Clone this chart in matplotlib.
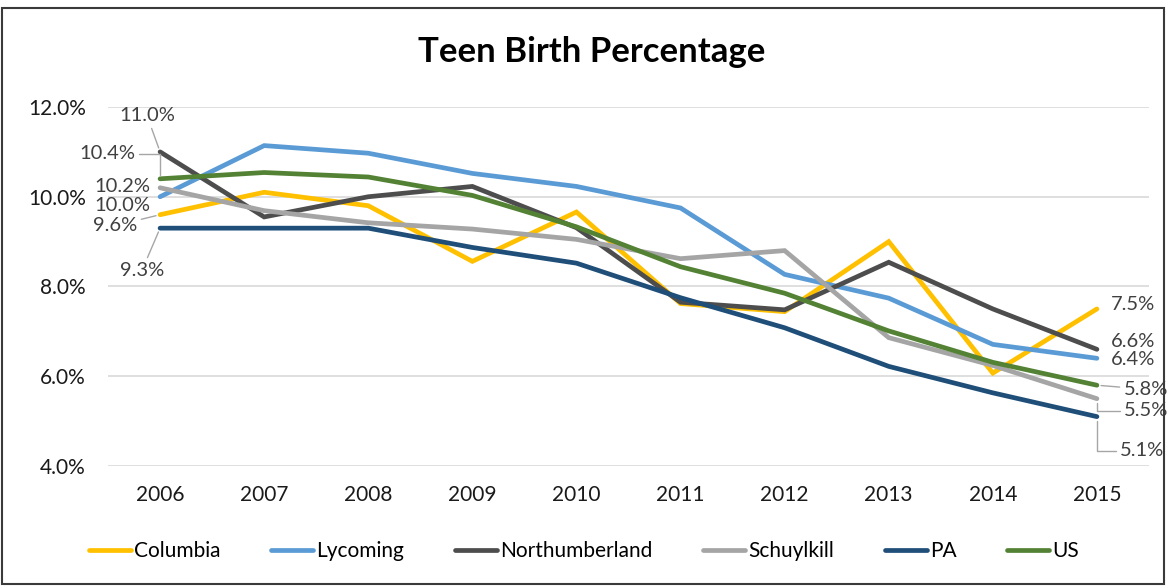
import matplotlib

matplotlib.use("Agg")
import matplotlib.pyplot as plt
import numpy as np
from matplotlib.patches import Rectangle

plt.rcParams["font.family"] = ["Lato", "DejaVu Sans"]

# ---------- Data (teen births as % of all births) ----------
years = ["2006", "2007", "2008", "2009", "2010", "2011", "2012", "2013", "2014", "2015"]
columbia = [9.6, 10.1, 9.8, 8.56, 9.66, 7.62, 7.44, 9.0, 6.07, 7.5]
lycoming = [10.0, 11.14, 10.97, 10.52, 10.23, 9.75, 8.27, 7.74, 6.71, 6.4]
northumberland = [11.0, 9.55, 10.0, 10.23, 9.31, 7.65, 7.48, 8.54, 7.5, 6.6]
schuylkill = [10.2, 9.69, 9.42, 9.28, 9.05, 8.62, 8.8, 6.86, 6.24, 5.5]
pa = [9.3, 9.3, 9.3, 8.87, 8.52, 7.75, 7.08, 6.22, 5.63, 5.1]
us = [10.4, 10.54, 10.44, 10.03, 9.33, 8.44, 7.85, 7.01, 6.31, 5.8]

series = [
    ("Columbia", columbia, "#FFC000"),
    ("Lycoming", lycoming, "#5B9BD5"),
    ("Northumberland", northumberland, "#4D4D4D"),
    ("Schuylkill", schuylkill, "#A5A5A5"),
    ("PA", pa, "#1F4E79"),
    ("US", us, "#548235"),
]

# end-point label offsets in pixels, plus leader style (None = no leader)
ELBOW = "angle,angleA=0,angleB=90,rad=0"
STRAIGHT = "arc3"
left_offsets = {
    "Northumberland": (-13, 36, STRAIGHT),
    "US": (-53, 25, ELBOW),
    "Schuylkill": (-38, 1, None),
    "Lycoming": (-38, -9, None),
    "Columbia": (-45, -11, STRAIGHT),
    "PA": (-18, -42, STRAIGHT),
}
right_offsets = {
    "Columbia": (36, 4, None),
    "Northumberland": (36, 8, None),
    "Lycoming": (36, -1, None),
    "US": (49, -4, STRAIGHT),
    "Schuylkill": (49, -12, ELBOW),
    "PA": (45, -34, ELBOW),
}

fig = plt.figure(figsize=(11.68, 5.86), dpi=100)
ax = fig.add_axes([0.0925, 0.2048, 0.8912, 0.6126])
x = np.arange(len(years))

for name, vals, color in series:
    ax.plot(x, vals, color=color, lw=3.4, label=name, solid_capstyle="round",
            solid_joinstyle="miter")


def end_label(xi, yi, offset):
    dx, dy, style = offset
    props = None
    if style is not None:
        props = dict(arrowstyle="-", color="#A6A6A6", lw=1.0, shrinkA=1,
                     shrinkB=3, connectionstyle=style)
    ax.annotate(f"{yi:.1f}%", (xi, yi), xytext=(dx, dy),
                textcoords="offset pixels", ha="center", va="center",
                fontsize=14.5, color="#404040", arrowprops=props)


for name, vals, color in series:
    end_label(x[0], vals[0], left_offsets[name])
    end_label(x[-1], vals[-1], right_offsets[name])

ax.set_xlim(-0.5, len(years) - 0.5)
ax.set_ylim(4, 12)
ax.set_xticks(x)
ax.set_xticklabels(years)
ax.set_yticks([4, 6, 8, 10, 12])
ax.set_yticklabels([f"{v:.1f}%" for v in [4, 6, 8, 10, 12]])
ax.tick_params(axis="both", length=0, labelsize=15, colors="#1a1a1a")
ax.tick_params(axis="x", pad=14)
ax.tick_params(axis="y", pad=16)
ax.grid(axis="y", color="#D9D9D9", lw=1.2)
ax.set_axisbelow(True)
for sp in ax.spines.values():
    sp.set_visible(False)

fig.text(0.507, 0.912, "Teen Birth Percentage", ha="center", va="center",
         fontsize=25, fontweight="bold", color="black")

fig.legend(loc="center", bbox_to_anchor=(0.5, 1 - 551 / 586), ncol=6,
           frameon=False, fontsize=15, handlelength=2.0, handletextpad=0.15,
           columnspacing=2.45)

# outer frame
fig.patches.append(Rectangle((0.002, 0.004), 0.995, 0.983, transform=fig.transFigure,
                             fill=False, edgecolor="#3a3a3a", lw=1.5))

fig.savefig("out.png", dpi=100)
